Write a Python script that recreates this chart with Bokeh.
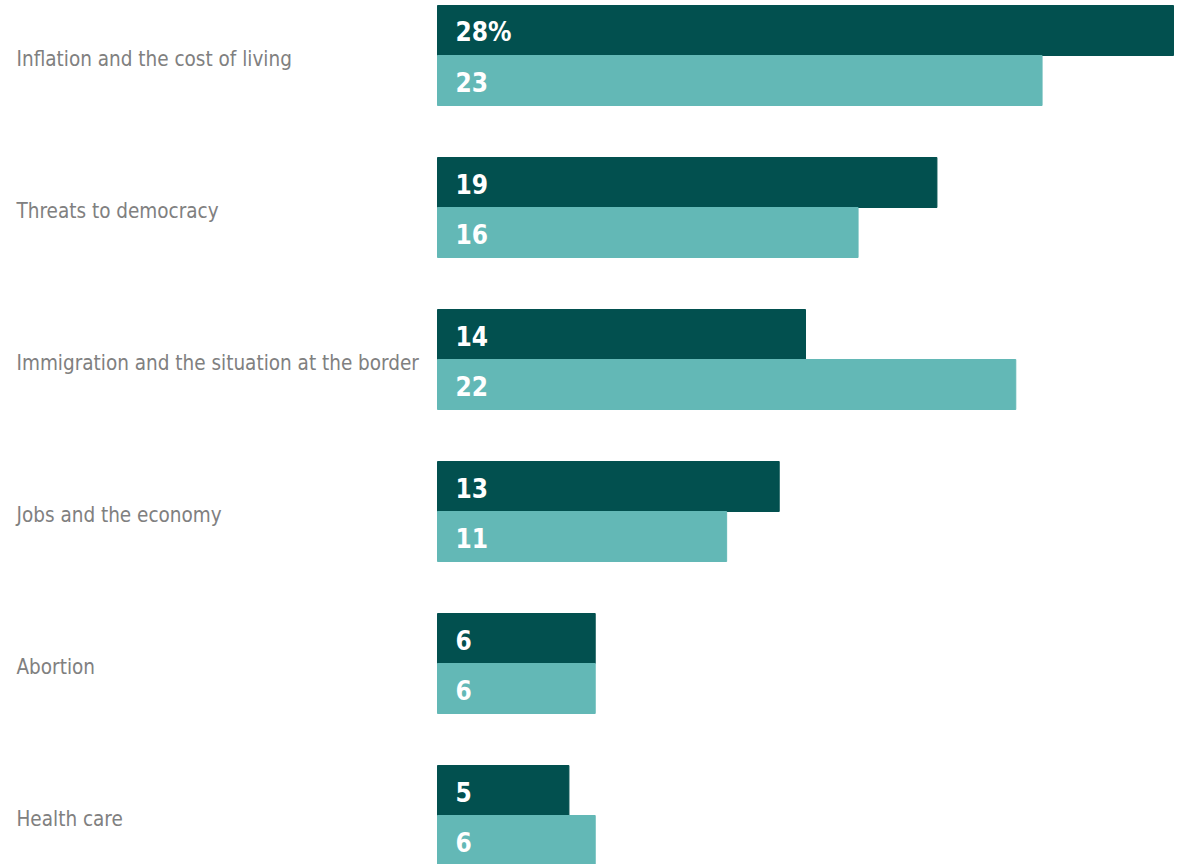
from bokeh.plotting import figure
from bokeh.models import ColumnDataSource, Range1d
from bokeh.core.properties import value
from bokeh.embed import file_html
from bokeh.resources import INLINE

categories = [
    "Inflation and the cost of living",
    "Threats to democracy",
    "Immigration and the situation at the border",
    "Jobs and the economy",
    "Abortion",
    "Health care",
]
series_a = [28, 19, 14, 13, 6, 5]
series_b = [23, 16, 22, 11, 6, 6]
labels_a = ["28%", "19", "14", "13", "6", "5"]
labels_b = ["23", "16", "22", "11", "6", "6"]

DARK = "#02504f"
LIGHT = "#63b8b6"
GRAY = "#808080"
FONT = "DejaVu Sans Condensed, Liberation Sans Narrow, sans-serif"

W, H = 1178, 864
px_per_unit = 736 / 28.0
x0 = -437 / px_per_unit
x1 = x0 + W / px_per_unit
step = 152.0
bh = 50 / step
y_top = -55 / step
y_bot = (H - 55) / step

idx = list(range(len(categories)))
src = ColumnDataSource(dict(
    y=idx,
    ya=[i - bh / 2 for i in idx],
    yb=[i + bh / 2 for i in idx],
    a=series_a, b=series_b,
    la=labels_a, lb=labels_b,
    cat=categories,
    zero=[0] * len(idx),
    left=[x0] * len(idx),
))

p = figure(width=W, height=H, output_backend="svg", toolbar_location=None,
           x_range=Range1d(x0, x1), y_range=Range1d(y_bot, y_top),
           min_border=0, outline_line_color=None)
p.axis.visible = False
p.grid.visible = False
p.background_fill_color = "white"
p.border_fill_color = "white"

p.hbar(y="ya", left=0, right="a", height=bh, color=DARK, source=src)
p.hbar(y="yb", left=0, right="b", height=bh, color=LIGHT, source=src)

p.text(x="zero", y="ya", text="la", x_offset=18, y_offset=1, text_color="white",
       text_font=value(FONT), text_font_style="bold", text_font_size="26px",
       text_baseline="middle", text_align="left", source=src)
p.text(x="zero", y="yb", text="lb", x_offset=18, y_offset=1, text_color="white",
       text_font=value(FONT), text_font_style="bold", text_font_size="26px",
       text_baseline="middle", text_align="left", source=src)

p.text(x="left", y="y", text="cat", x_offset=16, y_offset=3, text_color=GRAY,
       text_font=value(FONT), text_font_size="20.5px",
       text_baseline="middle", text_align="left", source=src)

open("out.html", "w").write(file_html(p, INLINE))
